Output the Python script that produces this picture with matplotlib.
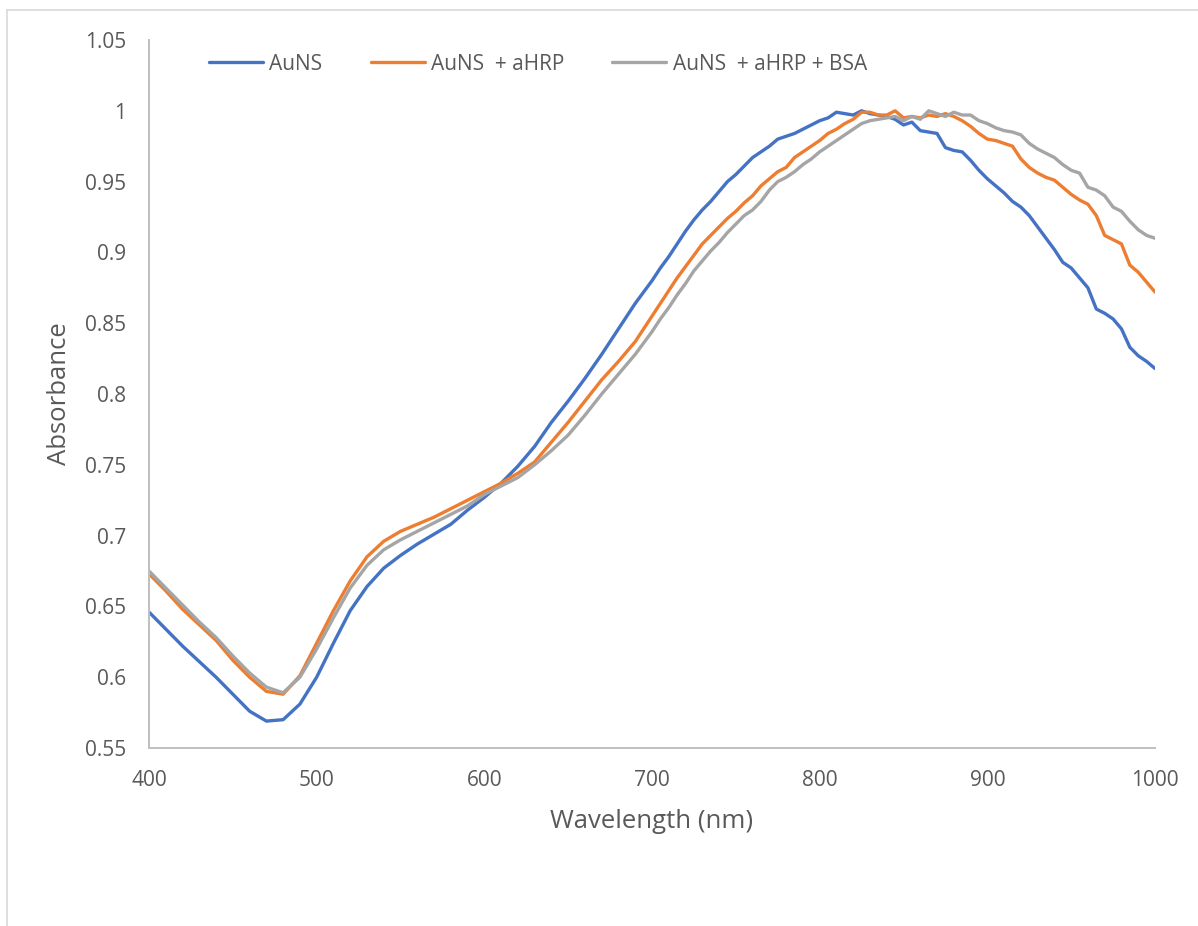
import numpy as np
import matplotlib
matplotlib.use("Agg")
import matplotlib.pyplot as plt
from matplotlib.lines import Line2D

# Absorbance spectra of gold nanostars: 10 nm steps up to 700 nm, 5 nm steps after
wavelength = np.concatenate([np.arange(400, 700, 10), np.arange(700, 1001, 5)])

auns = [
    0.646, 0.634, 0.622, 0.611, 0.600, 0.588, 0.576, 0.569, 0.570, 0.581,
    0.600, 0.624, 0.647, 0.664, 0.677, 0.686, 0.694, 0.701, 0.708, 0.718,
    0.727, 0.737, 0.749, 0.763, 0.780, 0.795, 0.811, 0.828, 0.846, 0.864,
    # 700 nm onwards
    0.880, 0.889, 0.897, 0.906, 0.915, 0.923, 0.930, 0.936, 0.943, 0.950,
    0.955, 0.961, 0.967, 0.971, 0.975, 0.980, 0.982, 0.984, 0.987, 0.990,
    0.993, 0.995, 0.999, 0.998, 0.997, 1.000, 0.998, 0.997, 0.996, 0.994,
    0.990, 0.992, 0.986, 0.985, 0.984, 0.974, 0.972, 0.971, 0.965, 0.958,
    0.952, 0.947, 0.942, 0.936, 0.932, 0.926, 0.918, 0.910, 0.902, 0.893,
    0.889, 0.882, 0.875, 0.860, 0.857, 0.853, 0.846, 0.833, 0.827, 0.823,
    0.818,
]

auns_ahrp = [
    0.673, 0.661, 0.648, 0.637, 0.626, 0.612, 0.600, 0.590, 0.588, 0.601,
    0.624, 0.647, 0.668, 0.685, 0.696, 0.703, 0.708, 0.713, 0.719, 0.725,
    0.731, 0.737, 0.744, 0.752, 0.766, 0.780, 0.795, 0.810, 0.823, 0.837,
    # 700 nm onwards
    0.855, 0.864, 0.873, 0.882, 0.890, 0.898, 0.906, 0.912, 0.918, 0.924,
    0.929, 0.935, 0.940, 0.947, 0.952, 0.957, 0.960, 0.967, 0.971, 0.975,
    0.979, 0.984, 0.987, 0.991, 0.994, 0.999, 0.999, 0.997, 0.997, 1.000,
    0.995, 0.996, 0.995, 0.997, 0.996, 0.998, 0.996, 0.993, 0.989, 0.984,
    0.980, 0.979, 0.977, 0.975, 0.966, 0.960, 0.956, 0.953, 0.951, 0.946,
    0.941, 0.937, 0.934, 0.926, 0.912, 0.909, 0.906, 0.891, 0.886, 0.879,
    0.872,
]

auns_ahrp_bsa = [
    0.675, 0.663, 0.651, 0.639, 0.628, 0.615, 0.603, 0.593, 0.589, 0.600,
    0.620, 0.642, 0.663, 0.679, 0.690, 0.697, 0.703, 0.709, 0.715, 0.721,
    0.729, 0.735, 0.741, 0.750, 0.760, 0.771, 0.785, 0.800, 0.814, 0.828,
    # 700 nm onwards
    0.844, 0.853, 0.861, 0.870, 0.878, 0.887, 0.894, 0.901, 0.907, 0.914,
    0.920, 0.926, 0.930, 0.936, 0.944, 0.950, 0.953, 0.957, 0.962, 0.966,
    0.971, 0.975, 0.979, 0.983, 0.987, 0.991, 0.993, 0.994, 0.995, 0.996,
    0.993, 0.996, 0.994, 1.000, 0.998, 0.996, 0.999, 0.997, 0.997, 0.993,
    0.991, 0.988, 0.986, 0.985, 0.983, 0.977, 0.973, 0.970, 0.967, 0.962,
    0.958, 0.956, 0.946, 0.944, 0.940, 0.932, 0.929, 0.922, 0.916, 0.912,
    0.910,
]

labels = ["AuNS", "AuNS  + aHRP", "AuNS  + aHRP + BSA"]
colors = ["#4472C4", "#ED7D31", "#A5A5A5"]

x_ticks = [400, 500, 600, 700, 800, 900, 1000]
y_ticks = [0.55, 0.6, 0.65, 0.7, 0.75, 0.8, 0.85, 0.9, 0.95, 1, 1.05]
y_tick_labels = ["0.55", "0.6", "0.65", "0.7", "0.75", "0.8", "0.85", "0.9",
                 "0.95", "1", "1.05"]

plt.rcParams["font.family"] = ["Open Sans", "DejaVu Sans"]
text_col = "#595959"
axis_col = "#BFBFBF"

W, H = 1198, 926
fig = plt.figure(figsize=(W / 100, H / 100), dpi=100)
ax = fig.add_axes([149 / W, 1 - 748 / H, (1155 - 149) / W, (748 - 40) / H])

for series, lab, col in zip([auns, auns_ahrp, auns_ahrp_bsa], labels, colors):
    ax.plot(wavelength, series, color=col, lw=2.4, label=lab,
            solid_capstyle="round", solid_joinstyle="round")

ax.set_xlim(400, 1000)
ax.set_ylim(0.55, 1.05)
ax.set_xticks(x_ticks)
ax.set_xticklabels([str(t) for t in x_ticks])
ax.set_yticks(y_ticks)
ax.set_yticklabels(y_tick_labels)
ax.tick_params(length=0, labelsize=15, colors=text_col)
ax.tick_params(axis="y", pad=16.5)
ax.tick_params(axis="x", pad=16)

for side in ["top", "right"]:
    ax.spines[side].set_visible(False)
for side in ["left", "bottom"]:
    ax.spines[side].set_color(axis_col)
    ax.spines[side].set_linewidth(1.4)

ax.set_xlabel("Wavelength (nm)", fontsize=18.5, color=text_col, va="center")
ax.set_ylabel("Absorbance", fontsize=18.5, color=text_col, va="center")
ax.xaxis.set_label_coords(0.5, (748 - 822) / 708)
ax.yaxis.set_label_coords((60 - 149) / 1006, 0.5)

fig.legend(loc="center", bbox_to_anchor=(538 / W, 1 - 64 / H), ncol=3,
           frameon=False, fontsize=15, labelcolor=text_col,
           handlelength=2.6, handletextpad=0.3, columnspacing=2.3)

# light chart-area border along the left and top
fig.add_artist(Line2D([7 / W, 7 / W], [0, 1 - 10 / H], transform=fig.transFigure,
                      color="#D9D9D9", lw=1.2))
fig.add_artist(Line2D([7 / W, 1], [1 - 10 / H, 1 - 10 / H], transform=fig.transFigure,
                      color="#D9D9D9", lw=1.2))

fig.savefig("out.png", dpi=100, facecolor="white")
